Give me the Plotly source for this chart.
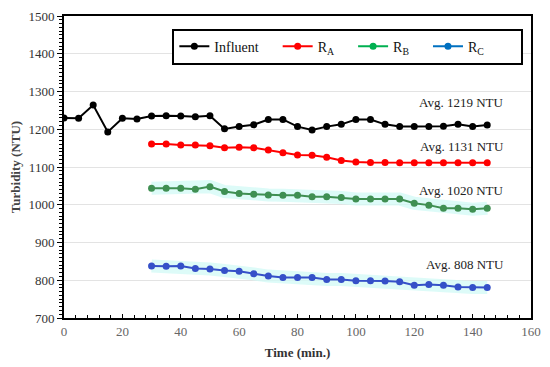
import plotly.graph_objects as go

time_inf = [0, 5, 10, 15, 20, 25, 30, 35, 40, 45, 50, 55, 60, 65, 70, 75, 80, 85, 90, 95,
            100, 105, 110, 115, 120, 125, 130, 135, 140, 145]
influent = [1230, 1229, 1264, 1193, 1229, 1227, 1235, 1236, 1235, 1233, 1236, 1201, 1207, 1212,
            1226, 1226, 1207, 1198, 1207, 1213, 1226, 1226, 1213, 1207, 1207, 1207, 1208, 1213,
            1207, 1211]

time_r = [30, 35, 40, 45, 50, 55, 60, 65, 70, 75, 80, 85, 90, 95, 100, 105, 110, 115, 120,
          125, 130, 135, 140, 145]
r_a = [1161, 1161, 1158, 1158, 1156, 1151, 1152, 1151, 1145, 1138, 1132, 1131, 1126, 1117,
       1113, 1112, 1112, 1111, 1111, 1111, 1111, 1111, 1111, 1111]
r_b = [1044, 1044, 1044, 1041, 1048, 1035, 1030, 1028, 1026, 1025, 1025, 1021, 1021, 1019,
       1015, 1015, 1015, 1015, 1004, 999, 991, 991, 988, 991]
r_c = [838, 837, 838, 831, 830, 826, 824, 817, 811, 807, 807, 807, 802, 802, 799, 799, 798,
       796, 787, 789, 787, 782, 781, 781]

avg_labels = ["Avg. 1219 NTU", "Avg. 1131 NTU", "Avg. 1020 NTU", "Avg. 808 NTU"]
avg_label_y = [1272, 1155, 1037, 841]

FONT = "Liberation Serif"
PAD = "\u00a0"
fig = go.Figure()

# soft cyan glow behind R_B and R_C
for ys in (r_b, r_c):
    fig.add_trace(go.Scatter(x=time_r, y=ys, mode="lines",
                             line=dict(color="rgba(210,250,245,0.75)", width=13),
                             showlegend=False, hoverinfo="skip"))

series = [
    ("Influent", PAD * 4, time_inf, influent, "#000000", "#000000"),
    ("R<sub>A</sub>", PAD * 4, time_r, r_a, "#ff0000", "#ff0000"),
    ("R<sub>B</sub>", PAD * 4, time_r, r_b, "#3f8f52", "#00b050"),
    ("R<sub>C</sub>", PAD * 9, time_r, r_c, "#3550c8", "#0070c0"),
]
for name, pad, xs, ys, col, legcol in series:
    fig.add_trace(go.Scatter(x=xs, y=ys, mode="lines+markers", name=name,
                             line=dict(color=col, width=2),
                             marker=dict(color=col, size=7),
                             showlegend=False))
    fig.add_trace(go.Scatter(x=[None], y=[None], mode="lines+markers", name=name + pad,
                             line=dict(color=legcol, width=2),
                             marker=dict(color=legcol, size=7)))

for txt, yv in zip(avg_labels, avg_label_y):
    fig.add_annotation(x=151.5, y=yv, text=txt, showarrow=False, xanchor="right",
                       yanchor="middle", font=dict(family=FONT, size=13, color="#222"))

# the page body adds an 8px offset, so the figure is 8px smaller than the window
fig.update_layout(
    width=542, height=359,
    margin=dict(l=56, r=19, t=8, b=49),
    plot_bgcolor="white", paper_bgcolor="white",
    font=dict(family=FONT, size=13, color="#333"),
    legend=dict(orientation="h", x=0.232, y=0.958, xanchor="left", yanchor="top",
                bordercolor="black", borderwidth=2, bgcolor="white",
                font=dict(family=FONT, size=14, color="#111"),
                itemwidth=30, tracegroupgap=0),
    xaxis=dict(range=[0, 160], dtick=20, showgrid=False, zeroline=False, automargin=False,
               showline=True, linecolor="black", linewidth=2, mirror=True,
               ticks="inside", ticklen=4, tickcolor="black",
               minor=dict(dtick=4, ticks="inside", ticklen=3, tickcolor="black"),
               tickfont=dict(family=FONT, size=13, color="#666"),
               title=dict(text="<b>Time (min.)</b>", standoff=10,
                          font=dict(family=FONT, size=13, color="#333"))),
    yaxis=dict(range=[700, 1500], dtick=100, showgrid=True, gridcolor="#e3e3e3",
               gridwidth=1, zeroline=False, automargin=False,
               showline=True, linecolor="black", linewidth=2, mirror=True,
               ticks="outside", ticklen=5, tickcolor="black",
               minor=dict(dtick=10, ticks="outside", ticklen=3, tickcolor="black",
                          showgrid=False),
               tickfont=dict(family=FONT, size=13, color="#333"),
               title=dict(text="<b>Turbidity (NTU)</b>", standoff=12,
                          font=dict(family=FONT, size=13, color="#444"))),
)

fig.write_html("out.html")
